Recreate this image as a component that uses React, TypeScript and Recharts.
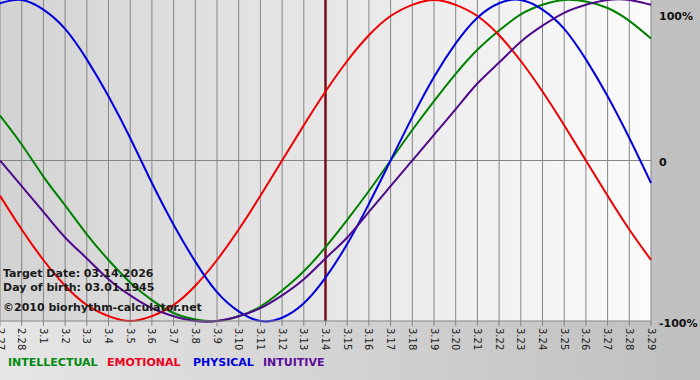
import React from "react";
import {
  LineChart,
  Line,
  XAxis,
  YAxis,
  CartesianGrid,
  ReferenceLine,
} from "recharts";

const dates = [
  "2.27", "2.28", "3.1", "3.2", "3.3", "3.4", "3.5", "3.6", "3.7", "3.8",
  "3.9", "3.10", "3.11", "3.12", "3.13", "3.14", "3.15", "3.16", "3.17", "3.18",
  "3.19", "3.20", "3.21", "3.22", "3.23", "3.24", "3.25", "3.26", "3.27", "3.28", "3.29",
];
const intellectual = [28, 10, -10, -28, -46, -62, -76, -87, -95, -99, -100, -97, -91, -81, -69, -54, -37, -19, 0, 19, 37, 54, 69, 81, 91, 97, 100, 99, 95, 87, 76];
const emotional = [-22, -43, -62, -78, -90, -97, -100, -97, -90, -78, -62, -43, -22, 0, 22, 43, 62, 78, 90, 97, 100, 97, 90, 78, 62, 43, 22, 0, -22, -43, -62];
const physical = [98, 100, 94, 82, 63, 40, 14, -14, -40, -63, -82, -94, -100, -98, -89, -73, -52, -27, 0, 27, 52, 73, 89, 98, 100, 94, 82, 63, 40, 14, -14];
const intuitive = [0, -16, -32, -48, -61, -74, -84, -92, -97, -100, -100, -97, -92, -84, -74, -61, -48, -32, -16, 0, 16, 32, 48, 61, 74, 84, 92, 97, 100, 100, 97];
const yTicks = [-100, 0, 100];
const yTickLabels = ["-100%", "0", "100%"];
const targetDate = "3.14";
const infoLines = ["Target Date: 03.14.2026", "Day of birth: 03.01.1945", "©2010 biorhythm-calculator.net"];
const legendItems = [
  { name: "INTELLECTUAL", color: "#008a10" },
  { name: "EMOTIONAL", color: "#ee0020" },
  { name: "PHYSICAL", color: "#0000dd" },
  { name: "INTUITIVE", color: "#5c0a9a" },
];

const data = dates.map((d, i) => ({
  date: d,
  intellectual: intellectual[i],
  emotional: emotional[i],
  physical: physical[i],
  intuitive: intuitive[i],
}));

const FONT = "'DejaVu Sans', Verdana, sans-serif";

const XTick = (props: any) => {
  const { x, y, payload } = props;
  return (
    <text
      x={x}
      y={y}
      dy="0.35em"
      transform={`rotate(90 ${x} ${y})`}
      textAnchor="start"
      fontSize={10}
      fontFamily={FONT}
      fill="#222"
    >
      {payload.value}
    </text>
  );
};

const YTick = (props: any) => {
  const { y, payload } = props;
  const idx = yTicks.indexOf(payload.value);
  const dy = payload.value === 100 ? 11 : 5.5;
  return (
    <text
      x={659}
      y={y + dy}
      textAnchor="start"
      fontSize={11}
      fontWeight="bold"
      fontFamily={FONT}
      fill="#111"
    >
      {yTickLabels[idx]}
    </text>
  );
};

export default function App() {
  const legendX = [8, 107, 193, 263];
  const infoY = [276.5, 291, 311];
  return (
    <div
      style={{
        position: "absolute",
        left: 0,
        top: 0,
        width: 700,
        height: 380,
        background: "linear-gradient(to right, #e6e6e6, #bfbfbf)",
        fontFamily: FONT,
      }}
    >
      <svg width={0} height={0} style={{ position: "absolute" }}>
        <defs>
          <linearGradient id="plotBg" x1="0" y1="0" x2="1" y2="0">
            <stop offset="0%" stopColor="#d3d3d3" />
            <stop offset="100%" stopColor="#fbfbfb" />
          </linearGradient>
        </defs>
      </svg>
      <LineChart
        width={700}
        height={380}
        data={data}
        margin={{ top: 0, right: 0, bottom: 0, left: 0 }}
      >
        <CartesianGrid
          horizontal={false}
          vertical={true}
          stroke="#858585"
          fill="url(#plotBg)"
          fillOpacity={1}
        />
        <XAxis
          dataKey="date"
          interval={0}
          height={59}
          tickSize={5}
          tickMargin={2}
          axisLine={{ stroke: "#858585" }}
          tickLine={{ stroke: "#858585" }}
          tick={<XTick />}
        />
        <YAxis
          orientation="right"
          width={49}
          domain={[-100, 100]}
          ticks={yTicks}
          axisLine={false}
          tickLine={false}
          tick={<YTick />}
        />
        <ReferenceLine y={0} stroke="#858585" />
        <ReferenceLine x={targetDate} stroke="#7a0c1c" strokeWidth={2.5} />
        <Line type="natural" dataKey="intellectual" stroke="#008000" strokeWidth={2} dot={false} activeDot={false} isAnimationActive={false} />
        <Line type="natural" dataKey="emotional" stroke="#ee0000" strokeWidth={2} dot={false} activeDot={false} isAnimationActive={false} />
        <Line type="natural" dataKey="physical" stroke="#0000dd" strokeWidth={2} dot={false} activeDot={false} isAnimationActive={false} />
        <Line type="natural" dataKey="intuitive" stroke="#4e0a8a" strokeWidth={2} dot={false} activeDot={false} isAnimationActive={false} />
      </LineChart>
      <svg
        width={700}
        height={380}
        style={{ position: "absolute", left: 0, top: 0, pointerEvents: "none" }}
      >
        {infoLines.map((t, i) => (
          <text key={t} x={3} y={infoY[i]} fontSize={11} fontWeight="bold" fontFamily={FONT} fill="#1a1a1a">
            {t}
          </text>
        ))}
        {legendItems.map((it, i) => (
          <text key={it.name} x={legendX[i]} y={366} fontSize={11} fontWeight="bold" fontFamily={FONT} fill={it.color}>
            {it.name}
          </text>
        ))}
      </svg>
    </div>
  );
}
